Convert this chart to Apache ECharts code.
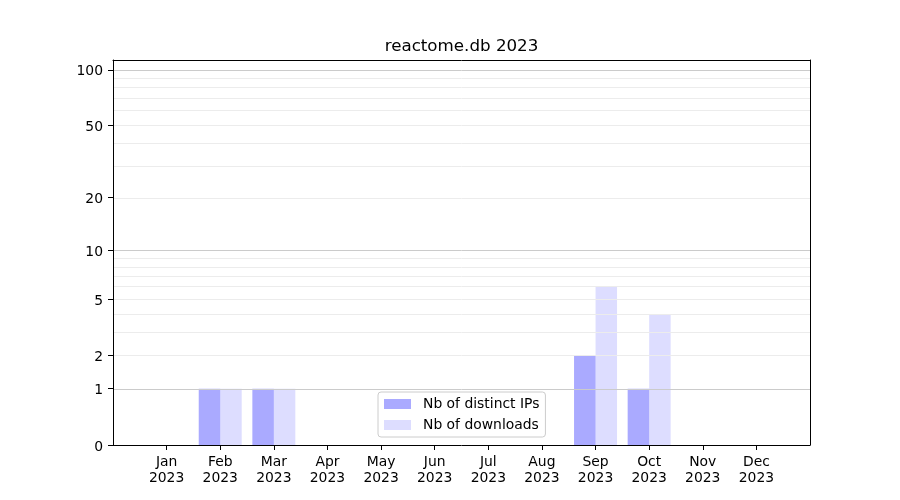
<!DOCTYPE html>
<html>
<head>
<meta charset="utf-8">
<script src="https://cdn.jsdelivr.net/npm/echarts@6/dist/echarts.min.js"></script>
<style>html,body{margin:0;padding:0;background:#fff}#c{width:900px;height:500px}</style>
</head>
<body>
<div id="c"></div>
<script>
const titleText = 'reactome.db 2023';
const months = ['Jan','Feb','Mar','Apr','May','Jun','Jul','Aug','Sep','Oct','Nov','Dec'];
const yearLabel = '2023';
const distinctIPs = [0,1,1,0,0,0,0,0,2,1,0,0];
const downloads = [0,1,1,0,0,0,0,0,6,4,0,0];
const yTickValues = [0,1,2,5,10,20,50,100];
const majorGridValues = [1,10,100];
const minorGridValues = [2,3,4,5,6,7,8,9,20,30,40,50,60,70,80,90];
const yMaxCount = 113;

const FONT = 'DejaVu Sans';
const f = v => Math.log10(1 + v);
const cats = [''].concat(months.map(m => m + '\n' + yearLabel)).concat(['']);
const pad = arr => [null].concat(arr.map(f)).concat([null]);
const spine = {show: true, onZero: false, lineStyle: {color: '#000', width: 1}};

const chart = echarts.init(document.getElementById('c'), null, {renderer: 'canvas'});
chart.setOption({
  animation: false,
  backgroundColor: '#fff',
  textStyle: {fontFamily: FONT},
  graphic: [{
    type: 'text', x: 461.5, y: 46.5,
    style: {text: titleText, font: '16.7px "DejaVu Sans"', fill: '#000', textAlign: 'center', textVerticalAlign: 'middle'}
  }],
  grid: {left: 113, right: 90, top: 60, bottom: 55, show: false},
  legend: {
    orient: 'vertical', left: 378, top: 392,
    data: ['Nb of distinct IPs', 'Nb of downloads'],
    icon: 'rect', itemWidth: 27, itemHeight: 10, itemGap: 5,
    padding: [4, 6, 4, 6],
    backgroundColor: 'rgba(255,255,255,0.8)', borderColor: '#cccccc', borderWidth: 1, borderRadius: 3,
    textStyle: {fontFamily: FONT, fontSize: 13.9, color: '#000', padding: [0, 0, 0, 7], lineHeight: 16}
  },
  xAxis: [{
    type: 'category', data: cats, boundaryGap: false, position: 'bottom', z: 10,
    axisLine: spine,
    axisTick: {show: true, length: 5, inside: false, lineStyle: {color: '#000'}, interval: (i) => i > 0 && i < cats.length - 1},
    axisLabel: {interval: 0, fontFamily: FONT, fontSize: 13.9, color: '#000', margin: 9, lineHeight: 16},
    splitLine: {show: false}
  }, {
    type: 'category', data: cats, boundaryGap: false, position: 'top', z: 10,
    axisLine: spine, axisTick: {show: false}, axisLabel: {show: false}, splitLine: {show: false}
  }],
  yAxis: [{
    type: 'value', min: 0, max: f(yMaxCount), position: 'left', z: 10,
    axisLine: spine,
    axisTick: {show: true, length: 5, lineStyle: {color: '#000'}, customValues: yTickValues.map(f)},
    axisLabel: {fontFamily: FONT, fontSize: 13.9, color: '#000', margin: 10,
      customValues: yTickValues.map(f),
      formatter: v => '{a|' + Math.round(Math.pow(10, v) - 1) + '}',
      rich: {a: {fontFamily: FONT, fontSize: 13.9, color: '#000', padding: [4, 0, 0, 0]}}},
    splitLine: {show: false}
  }, {
    type: 'value', min: 0, max: f(yMaxCount), position: 'right', z: 10,
    axisLine: spine, axisTick: {show: false}, axisLabel: {show: false}, splitLine: {show: false}
  }],
  series: [
    {
      type: 'line', data: [], z: 1, silent: true,
      markLine: {
        silent: true, symbol: ['none', 'none'], label: {show: false}, animation: false,
        data: majorGridValues.map(v => ({yAxis: f(v), lineStyle: {color: '#cbcbcb', width: 1, type: 'solid'}}))
          .concat(minorGridValues.map(v => ({yAxis: f(v), lineStyle: {color: '#ececec', width: 1, type: 'solid'}})))
      }
    },
    {
      name: 'Nb of distinct IPs', type: 'bar', data: pad(distinctIPs), z: 2,
      barWidth: 21.5, barGap: '0%',
      itemStyle: {color: 'rgba(0,0,255,0.333)'}
    },
    {
      name: 'Nb of downloads', type: 'bar', data: pad(downloads), z: 2,
      barWidth: 21.5, barGap: '0%',
      itemStyle: {color: 'rgba(0,0,255,0.133)'}
    }
  ]
});
</script>
</body>
</html>
